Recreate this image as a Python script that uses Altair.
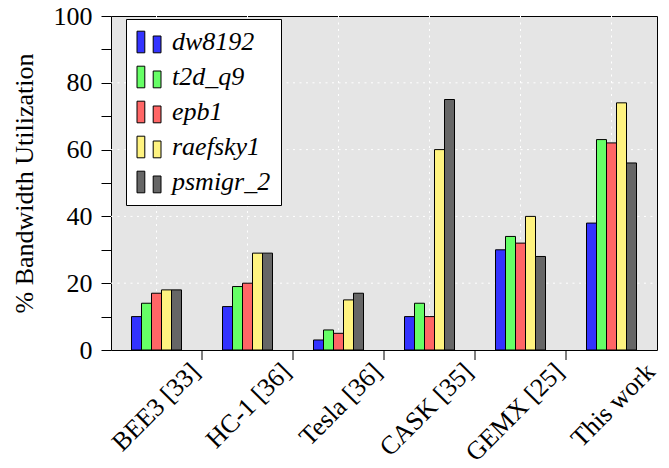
import altair as alt
import pandas as pd

groups = ["BEE3 [33]", "HC-1 [36]", "Tesla [36]", "CASK [35]", "GEMX [25]", "This work"]
series = ["dw8192", "t2d_q9", "epb1", "raefsky1", "psmigr_2"]
dw8192 = [10, 13, 3, 10, 30, 38]
t2d_q9 = [14, 19, 6, 14, 34, 63]
epb1 = [17, 20, 5, 10, 32, 62]
raefsky1 = [18, 29, 15, 60, 40, 74]
psmigr_2 = [18, 29, 17, 75, 28, 56]
colors = ["#3333ff", "#66ff66", "#ff6666", "#fff380", "#666666"]
y_ticks = list(range(0, 101, 10))
y_grid = [20, 40, 60, 80]

values = [dw8192, t2d_q9, epb1, raefsky1, psmigr_2]
rows = []
for s, vals in zip(series, values):
    for g, v in zip(groups, vals):
        rows.append({"group": g, "series": s, "value": v})
df = pd.DataFrame(rows)
gdf = pd.DataFrame({"group": groups})
tdf = pd.DataFrame({"group": groups[1:]})
hdf = pd.DataFrame({"v": y_grid})

W, H = 546, 334
FONT = "Liberation Serif"
FS = 26

xscale = alt.Scale(domain=groups, paddingInner=0, paddingOuter=0)
yscale = alt.Scale(domain=[0, 100], nice=False)

legend_symbol = "M-1,-0.9H-0.35V0.9H-1Z M0.35,-0.5H1V0.9H0.35Z"

vgrid = alt.Chart(gdf).mark_rule(color="white", strokeDash=[2, 4.5], strokeWidth=1).encode(
    x=alt.X("group:N", scale=xscale, sort=groups, axis=None),
    y=alt.value(0),
    y2=alt.value(H),
)

hgrid = alt.Chart(hdf).mark_rule(color="white", strokeDash=[2, 4.5], strokeWidth=1).encode(
    y=alt.Y("v:Q", scale=yscale, axis=None),
    x=alt.value(0),
    x2=alt.value(W),
)

xticks = alt.Chart(tdf).mark_rule(color="black", strokeWidth=1).encode(
    x=alt.X("group:N", scale=xscale, sort=groups, axis=None, bandPosition=0),
    y=alt.value(H),
    y2=alt.value(H + 10),
)

bars = alt.Chart(df).mark_bar(stroke="black", strokeWidth=1, opacity=1).encode(
    x=alt.X(
        "group:N",
        scale=xscale,
        sort=groups,
        axis=alt.Axis(
            title=None,
            ticks=False,
            domain=False,
            grid=False,
            labelAngle=-45,
            labelAlign="right",
            labelBaseline="top",
            labelOffset=30,
            labelPadding=8,
            labelFont=FONT,
            labelFontSize=FS,
            labelColor="black",
            labelLimit=300,
        ),
    ),
    xOffset=alt.XOffset(
        "series:N",
        sort=series,
        scale=alt.Scale(domain=series, paddingInner=0, paddingOuter=0, range=[20.5, 70.5]),
    ),
    y=alt.Y(
        "value:Q",
        scale=yscale,
        axis=alt.Axis(
            values=y_ticks,
            labelExpr="datum.value % 20 == 0 ? datum.label : ''",
            tickSize=10,
            tickColor="black",
            domain=False,
            grid=False,
            labelFont=FONT,
            labelFontSize=FS,
            labelColor="black",
            labelPadding=9,
            title="% Bandwidth Utilization",
            titleFont=FONT,
            titleFontSize=FS,
            titleFontWeight="normal",
            titleColor="black",
            titlePadding=16,
        ),
    ),
    color=alt.Color(
        "series:N",
        sort=series,
        scale=alt.Scale(domain=series, range=colors),
        legend=alt.Legend(
            title=None,
            orient="none",
            legendX=15,
            legendY=3,
            strokeColor="black",
            fillColor="white",
            padding=10,
            cornerRadius=0,
            symbolType=legend_symbol,
            symbolSize=576,
            symbolStrokeColor="black",
            symbolStrokeWidth=1,
            symbolOpacity=1,
            labelFont=FONT,
            labelFontSize=FS,
            labelFontStyle="italic",
            labelColor="black",
            labelOffset=10,
            rowPadding=9,
        ),
    ),
)

chart = (
    alt.layer(vgrid, hgrid, xticks, bars)
    .resolve_axis(x="independent", y="independent")
    .properties(
        width=W,
        height=H,
        autosize=alt.AutoSizeParams(type="none"),
        padding={"left": 111, "top": 16, "right": 12, "bottom": 118},
        background="white",
    )
    .configure_view(fill="#e5e5e5", stroke="black", strokeWidth=1)
)

chart.save("out.html", embed_options={"renderer": "svg", "actions": False})
